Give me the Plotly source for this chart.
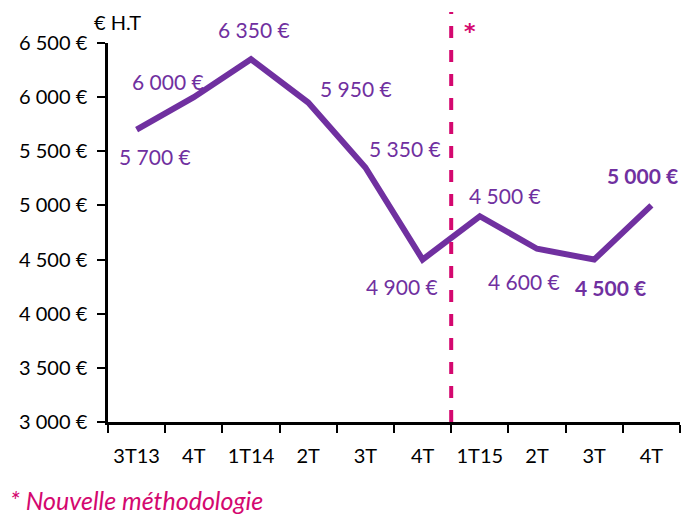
import plotly.graph_objects as go

categories = ["3T13", "4T", "1T14", "2T", "3T", "4T", "1T15", "2T", "3T", "4T"]
values = [5700, 6000, 6350, 5950, 5350, 4500, 4900, 4600, 4500, 5000]
label_texts = ["5 700 €", "6 000 €", "6 350 €", "5 950 €", "5 350 €",
               "4 900 €", "4 500 €", "4 600 €", "<b>4 500 €</b>", "<b>5 000 €</b>"]
y_ticks = [3000, 3500, 4000, 4500, 5000, 5500, 6000, 6500]
y_tick_text = ["3 000 €", "3 500 €", "4 000 €", "4 500 €", "5 000 €", "5 500 €", "6 000 €", "6 500 €"]

# label offsets (pixels) relative to their points
label_dx = [18, -26, 3, 48, 40, -21, 25, -13, 16, -9]
label_dy = [-27, 16, 30, 14, 19, -27, 21, -33, -28, 30]

PURPLE = "#7030a0"
MAGENTA = "#d4086f"
FONT = "Lato"

x = list(range(len(categories)))
fig = go.Figure()
fig.add_trace(go.Scatter(x=x, y=values, mode="lines",
                         line=dict(color=PURPLE, width=6), hoverinfo="skip"))

annotations = []
for i, (v, t) in enumerate(zip(values, label_texts)):
    annotations.append(dict(x=i, y=v, xref="x", yref="y", text=t, showarrow=False,
                            xshift=label_dx[i], yshift=label_dy[i],
                            font=dict(family=FONT, size=21, color=PURPLE)))
annotations.append(dict(x=0, y=1.055, xref="paper", yref="paper", text="€ H.T",
                        showarrow=False, xanchor="center", yanchor="middle", xshift=9,
                        font=dict(family=FONT, size=20, color="black")))
annotations.append(dict(x=0.633, y=1.03, xref="paper", yref="paper", text="<b>*</b>",
                        showarrow=False, xanchor="center", yanchor="middle",
                        font=dict(family="DejaVu Sans", size=22, color=MAGENTA)))
annotations.append(dict(x=0, y=-0.206, xref="paper", yref="paper", text="<i>* Nouvelle méthodologie</i>",
                        showarrow=False, xanchor="left", yanchor="middle", xshift=-100,
                        font=dict(family=FONT, size=25, color=MAGENTA)))

fig.update_layout(
    width=688, height=506,
    margin=dict(l=100, r=16, t=35, b=92, autoexpand=False),
    paper_bgcolor="white", plot_bgcolor="white",
    showlegend=False,
    annotations=annotations,
    shapes=[dict(type="line", xref="paper", yref="paper", x0=0.6, x1=0.6, y0=0, y1=1.082,
                 line=dict(color=MAGENTA, width=4, dash="dash"))],
    font=dict(family=FONT, size=20, color="black"),
)
fig.update_xaxes(range=[-0.5, 9.5], tickvals=x, ticktext=categories, ticks="",
                 showgrid=False, zeroline=False, showline=True, linecolor="black", linewidth=2.5,
                 tickfont=dict(family=FONT, size=20, color="black"), ticklabelstandoff=14,
                 minor=dict(tickvals=[i - 0.5 for i in range(len(categories) + 1)],
                            ticks="outside", ticklen=8, tickwidth=2, tickcolor="black"))
fig.update_yaxes(range=[3000, 6500], tickvals=y_ticks, ticktext=y_tick_text,
                 ticks="outside", ticklen=8, tickwidth=2, tickcolor="black", ticklabelstandoff=6,
                 showgrid=False, zeroline=False, showline=True, linecolor="black", linewidth=2.5,
                 tickfont=dict(family=FONT, size=20, color="black"))

fig.write_html("out.html")
